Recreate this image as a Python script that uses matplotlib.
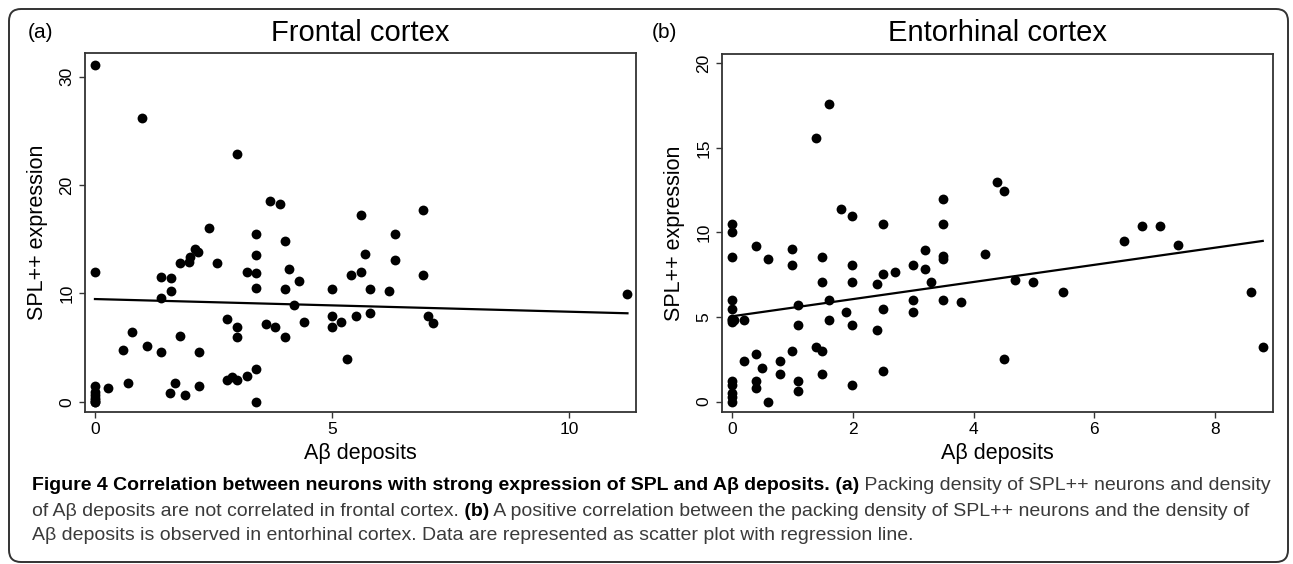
import matplotlib
matplotlib.use("Agg")
import matplotlib.pyplot as plt
from matplotlib.patches import FancyBboxPatch
from matplotlib.transforms import IdentityTransform
from matplotlib import font_manager

# ---- data ----
# (a) frontal cortex
fc_x = [0, 0.99, 3.0, 3.70, 3.90, 5.61, 6.91, 2.40, 3.40, 6.32, 4.0,
        2.11, 2.17, 2.0, 1.98, 1.79, 2.57, 3.40, 5.70, 6.32, 0, 3.2, 3.4,
        5.4, 5.61, 6.91, 4.1, 1.39, 1.60, 4.30, 1.60, 3.40, 4.0, 5.0, 5.81,
        6.21, 11.23, 1.39, 4.20, 5.0, 5.51, 5.81, 7.02, 7.12, 2.79, 3.60,
        3.80, 4.41, 5.19, 5.0, 3.0, 3.0, 4.0, 0.79, 1.80, 1.10, 0.59, 1.39,
        2.19, 5.32, 3.40, 3.20, 2.79, 2.89, 3.0, 0.69, 1.68, 0.28, 2.19,
        1.59, 1.89, 3.40, 0, 0, 0, 0, 0, 0, 0]
fc_y = [31.1, 26.2, 22.9, 18.55, 18.3, 17.2, 17.7, 16.06, 15.5, 15.5, 14.8,
        14.1, 13.8, 13.4, 12.9, 12.8, 12.8, 13.55, 13.67, 13.06, 12.0, 11.96, 11.87,
        11.7, 11.96, 11.74, 12.3, 11.56, 11.38, 11.13, 10.24, 10.49, 10.4, 10.4, 10.4,
        10.18, 9.94, 9.57, 8.96, 7.95, 7.95, 8.17, 7.95, 7.28, 7.65, 7.19,
        6.94, 7.37, 7.37, 6.94, 6.94, 5.96, 5.96, 6.48, 6.09, 5.17, 4.80, 4.56,
        4.56, 3.98, 3.0, 2.39, 2.02, 2.29, 2.02, 1.71, 1.71, 1.31, 1.44,
        0.83, 0.64, 0.0, 1.44, 0.92, 0.6, 0.35, 0.15, 0.0, 0.0]
fc_fit = (9.48, -0.117)      # intercept, slope of the drawn regression line

# (b) entorhinal cortex
ec_x = [1.6, 1.39, 4.39, 4.5, 3.5, 1.8, 1.99, 2.5, 3.5, 0, 0, 6.79, 7.09,
        6.5, 7.39, 0.4, 0.99, 0, 0.6, 0.99, 1.49, 1.99, 2.99, 3.19, 3.19,
        3.5, 3.5, 4.19, 2.70, 2.5, 1.49, 1.99, 3.30, 2.40, 4.69, 4.99, 5.49,
        8.59, 0, 1.6, 2.99, 3.5, 3.79, 1.09, 0, 2.5, 1.89, 2.99, 0, 0, 0,
        0.04, 0.2, 1.6, 1.09, 1.99, 2.40, 1.39, 1.49, 0.99, 8.79, 0.4, 4.5,
        0.2, 0.8, 0.5, 2.5, 0.8, 1.49, 0.4, 1.09, 0, 0, 1.99, 0.4, 1.09,
        0, 0, 0, 0.6]
ec_y = [17.6, 15.6, 12.98, 12.47, 12.0, 11.38, 10.99, 10.5, 10.5, 10.5, 10.0, 10.37, 10.37,
        9.5, 9.25, 9.2, 9.0, 8.55, 8.45, 8.05, 8.55, 8.05, 8.05, 8.95, 7.85,
        8.6, 8.45, 8.75, 7.65, 7.55, 7.05, 7.05, 7.05, 6.95, 7.2, 7.05, 6.5,
        6.5, 6.0, 6.0, 6.0, 6.0, 5.9, 5.7, 5.5, 5.5, 5.3, 5.3, 4.9, 4.8, 4.72,
        4.8, 4.84, 4.82, 4.5, 4.5, 4.2, 3.24, 3.0, 3.0, 3.2, 2.8, 2.5,
        2.4, 2.4, 2.0, 1.78, 1.62, 1.62, 1.2, 1.2, 1.24, 1.0, 1.0, 0.78, 0.6,
        0.5, 0.28, 0.0, 0.0]
ec_fit = (5.04, 0.507)

panels = [
    dict(x=fc_x, y=fc_y, fit=fc_fit, tag="(a)", title="Frontal cortex",
         xlim=(-0.21, 11.41), ylim=(-0.95, 32.2), xticks=[0, 5, 10], yticks=[0, 10, 20, 30]),
    dict(x=ec_x, y=ec_y, fit=ec_fit, tag="(b)", title="Entorhinal cortex",
         xlim=(-0.166, 8.96), ylim=(-0.62, 20.55), xticks=[0, 2, 4, 6, 8], yticks=[0, 5, 10, 15, 20]),
]

names = {f.name for f in font_manager.fontManager.ttflist}
narrow = "Liberation Sans Narrow" if "Liberation Sans Narrow" in names else "Liberation Sans"
NARROW = [narrow, "DejaVu Sans"]
ARIAL = ["Liberation Sans", "DejaVu Sans"]

W, H = 1293, 564
fig = plt.figure(figsize=(W / 100, H / 100), dpi=100)

# rounded frame around the whole figure
frame = FancyBboxPatch((9, 2), 1279, 553, boxstyle="round,pad=0,rounding_size=12",
                       transform=IdentityTransform(), fill=False, ec="#333333", lw=1.4)
fig.patches.append(frame)

ax_rects = [[85 / W, 152 / H, 551 / W, 359 / H],
            [722 / W, 152 / H, 551 / W, 358 / H]]
tag_x = [28, 652]

for p, rect, tx in zip(panels, ax_rects, tag_x):
    ax = fig.add_axes(rect)
    ax.scatter(p["x"], p["y"], s=50, color="black", zorder=3, linewidths=0)
    b0, b1 = p["fit"]
    xs = [0, max(p["x"])]
    ax.plot(xs, [b0 + b1 * v for v in xs], color="black", lw=1.6)
    ax.set_xlim(*p["xlim"])
    ax.set_ylim(*p["ylim"])
    ax.set_xticks(p["xticks"])
    ax.set_yticks(p["yticks"])
    ax.set_xticklabels([str(v) for v in p["xticks"]], family=NARROW, fontsize=12.5)
    ax.set_yticklabels([str(v) for v in p["yticks"]], family=NARROW, fontsize=12.5,
                       rotation=90, va="center")
    ax.tick_params(direction="out", length=4.5, width=1, color="#333333", pad=3)
    for s in ax.spines.values():
        s.set_linewidth(1.3)
        s.set_color("#333333")
    ax.set_xlabel("Aβ deposits", family=ARIAL, fontsize=15.5, labelpad=4)
    ax.set_ylabel("SPL++ expression", family=ARIAL, fontsize=15.5, labelpad=8)
    cx = rect[0] + rect[2] / 2
    fig.text(cx, 1 - 33 / H, p["title"], family=NARROW, fontsize=21,
             ha="center", va="center")
    fig.text(tx / W, 1 - 33 / H, p["tag"], family=ARIAL, fontsize=15,
             ha="left", va="center")

# caption with mixed bold / regular runs
caption = [
    [("Figure 4 Correlation between neurons with strong expression of SPL and Aβ deposits.", True),
     (" (a)", True), (" Packing density of SPL++ neurons and density", False)],
    [("of Aβ deposits are not correlated in frontal cortex.", False), (" (b)", True),
     (" A positive correlation between the packing density of SPL++ neurons and the density of", False)],
    [("Aβ deposits is observed in entorhinal cortex. Data are represented as scatter plot with regression line.", False)],
]
fig.canvas.draw()
renderer = fig.canvas.get_renderer()
line_y = [486, 511, 536]
for runs, ly in zip(caption, line_y):
    x = 32
    for txt, bold in runs:
        t = fig.text(x / W, 1 - ly / H, txt, family=NARROW, fontsize=14,
                     fontweight="bold" if bold else "normal",
                     color="black" if bold else "#3a3a3a", va="center", ha="left")
        bb = t.get_window_extent(renderer)
        x += bb.width

fig.savefig("out.png", dpi=100)
